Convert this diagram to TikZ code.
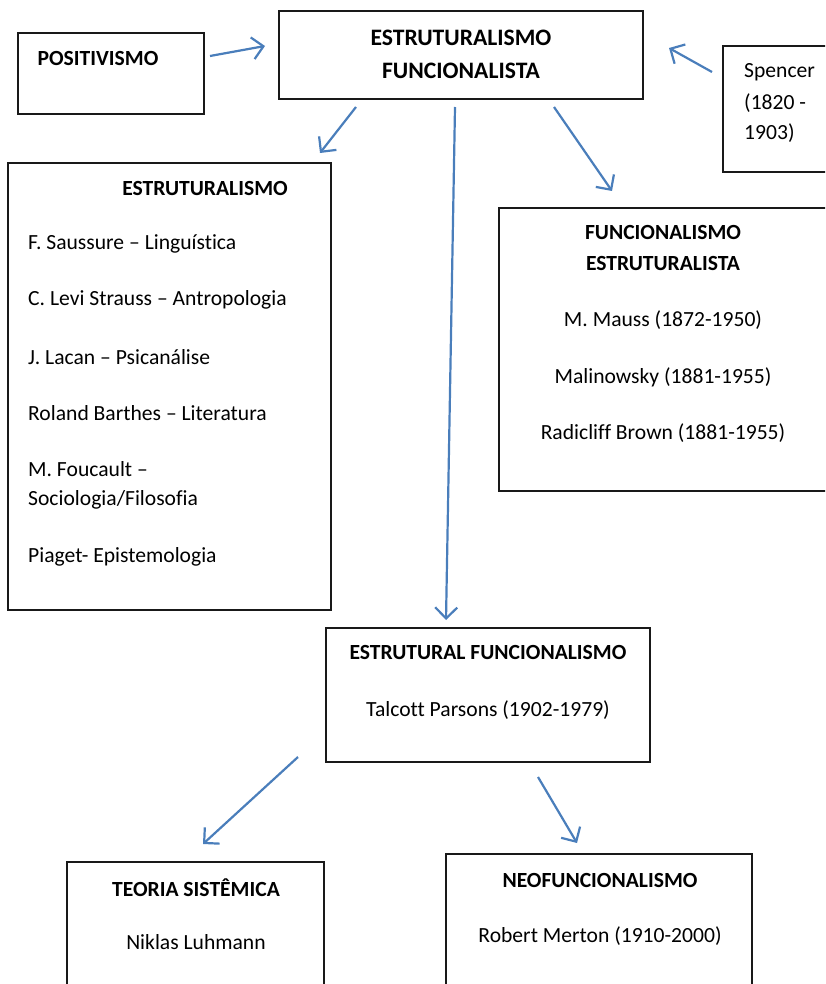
\documentclass[tikz,border=0pt]{standalone}
\usepackage{fontspec}
\setmainfont[Ligatures=NoCommon]{Carlito}
\usetikzlibrary{arrows.meta}
\definecolor{arrowblue}{HTML}{4A7EBB}
\tikzset{
  box/.style={draw=black!90, line width=1.6pt, fill=none},
  txt/.style={font=\fontsize{21.6}{31}\selectfont, inner sep=0pt},
  ttl/.style={txt, font=\fontsize{21.6}{31}\selectfont\bfseries},
  bigttl/.style={txt, font=\fontsize{23.6}{31}\selectfont\bfseries},
  link/.style={draw=arrowblue, line width=2.2pt, -{Straight Barb[length=11pt,width=22pt,line width=2.2pt]}}
}
\begin{document}
\begin{tikzpicture}[x=1pt,y=-1pt]
\useasboundingbox (0,0) rectangle (825,984);
\clip (0,0) rectangle (825,984);
% boxes
\draw[box] (18,33) rectangle (204,114);
\draw[box] (279,11) rectangle (643,99);
\draw[box] (723,46) rectangle (840,172);
\draw[box] (8,163) rectangle (331,610);
\draw[box] (499,208) rectangle (840,491);
\draw[box] (326,628) rectangle (650,762);
\draw[box] (67,862) rectangle (324,1000);
\draw[box] (446,854) rectangle (752,1000);
% texts
\node[ttl] (pos) at (98,58) {POSITIVISMO};
\node[bigttl] (ef1) at (461,38) {ESTRUTURALISMO};
\node[bigttl] (ef2) at (461,71) {FUNCIONALISTA};
\node[txt, anchor=west] (sp1) at (744,72) {Spencer};
\node[txt, anchor=west] (sp2) at (744,103) {(1820 -};
\node[txt, anchor=west] (sp3) at (744,133) {1903)};
\node[ttl] (es) at (205,188) {ESTRUTURALISMO};
\node[txt, anchor=west] (e1) at (28,244) {F. Saussure – Linguística};
\node[txt, anchor=west] (e2) at (28,300) {C. Levi Strauss – Antropologia};
\node[txt, anchor=west] (e3) at (28,357) {J. Lacan – Psicanálise};
\node[txt, anchor=west] (e4) at (28,413) {Roland Barthes – Literatura};
\node[txt, anchor=west] (e5) at (28,469) {M. Foucault –};
\node[txt, anchor=west] (e6) at (28,500) {Sociologia/Filosofia};
\node[txt, anchor=west] (e7) at (28,557) {Piaget- Epistemologia};
\node[ttl] (fe1) at (663,232) {FUNCIONALISMO};
\node[ttl] (fe2) at (663,263) {ESTRUTURALISTA};
\node[txt] (f1) at (663,320) {M. Mauss (1872-1950)};
\node[txt] (f2) at (663,377) {Malinowsky (1881-1955)};
\node[txt] (f3) at (663,433) {Radicliff Brown (1881-1955)};
\node[ttl] (sf) at (488,652) {ESTRUTURAL FUNCIONALISMO};
\node[txt] (tp) at (488,710) {Talcott Parsons (1902-1979)};
\node[ttl] (ts) at (196,888) {TEORIA SISTÊMICA};
\node[txt] (nl) at (196,942) {Niklas Luhmann};
\node[ttl] (nf) at (600,880) {NEOFUNCIONALISMO};
\node[txt] (rm) at (600,936) {Robert Merton (1910-2000)};
% arrow ends
\coordinate (a1s) at (210,56); \coordinate (a1e) at (265,46);
\coordinate (a2s) at (712,72); \coordinate (a2e) at (669,48);
\coordinate (a3s) at (356,107); \coordinate (a3e) at (320,153);
\coordinate (a4s) at (455,107); \coordinate (a4e) at (446,620);
\coordinate (a5s) at (554,107); \coordinate (a5e) at (612,191);
\coordinate (a6s) at (298,757); \coordinate (a6e) at (203,844);
\coordinate (a7s) at (538,777); \coordinate (a7e) at (577,843);
\draw[link] (a1s) -- (a1e);
\draw[link] (a2s) -- (a2e);
\draw[link] (a3s) -- (a3e);
\draw[link] (a4s) -- (a4e);
\draw[link] (a5s) -- (a5e);
\draw[link] (a6s) -- (a6e);
\draw[link] (a7s) -- (a7e);
\end{tikzpicture}
\end{document}
